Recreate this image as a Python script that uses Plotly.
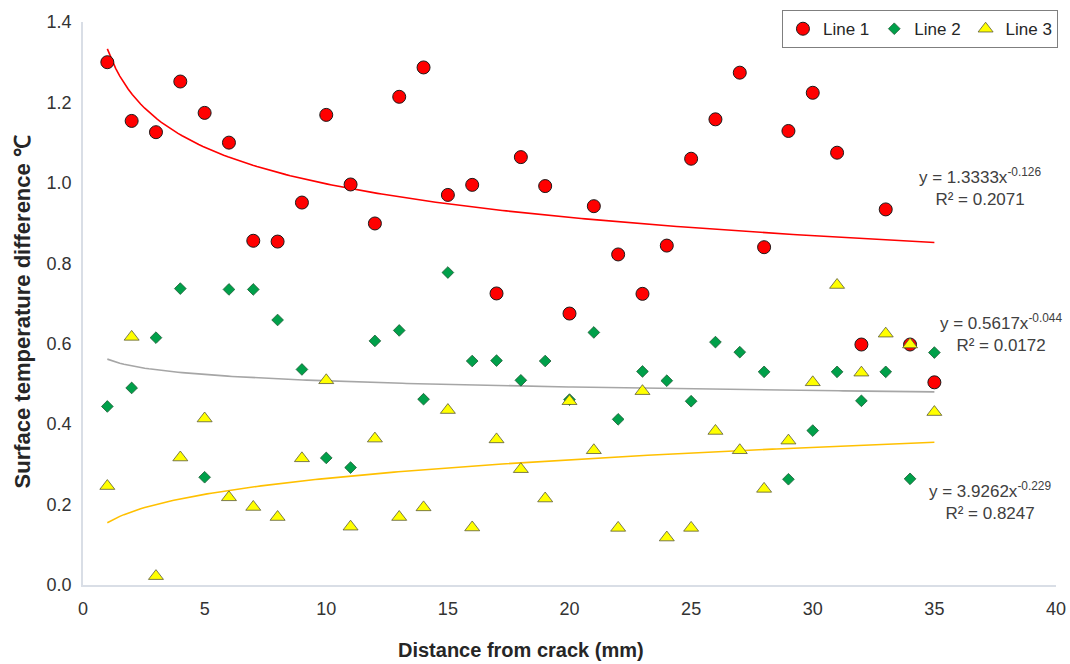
import numpy as np
import plotly.graph_objects as go

# ---- data ----
distance = list(range(1, 36))

line1 = [1.300, 1.154, 1.126, 1.252, 1.174, 1.100, 0.856, 0.854, 0.951, 1.169,
         0.996, 0.899, 1.214, 1.287, 0.970, 0.995, 0.725, 1.064, 0.992, 0.675,
         0.942, 0.822, 0.724, 0.844, 1.060, 1.158, 1.274, 0.840, 1.129, 1.224,
         1.075, 0.598, 0.934, 0.598, 0.504]

line2 = [0.444, 0.490, 0.615, 0.737, 0.268, 0.735, 0.735, 0.659, 0.536, 0.316,
         0.292, 0.607, 0.633, 0.462, 0.777, 0.557, 0.558, 0.509, 0.557, 0.461,
         0.628, 0.412, 0.531, 0.508, 0.457, 0.604, 0.579, 0.530, 0.263, 0.384,
         0.530, 0.458, 0.530, 0.264, 0.578]

line3 = [0.246, 0.617, 0.022, 0.317, 0.414, 0.218, 0.194, 0.169, 0.315, 0.509,
         0.145, 0.364, 0.169, 0.193, 0.435, 0.143, 0.362, 0.288, 0.215, 0.457,
         0.335, 0.142, 0.482, 0.118, 0.142, 0.383, 0.335, 0.239, 0.359, 0.504,
         0.746, 0.528, 0.625, 0.598, 0.430]

series_names = ["Line 1", "Line 2", "Line 3"]

# power trend lines y = a * x^b (as drawn in the reference)
trend_coef = [1.3333, 0.5617, 0.155]
trend_exp = [-0.126, -0.044, 0.233]
trend_labels = ["y = 1.3333x<sup>-0.126</sup><br>R² = 0.2071",
                "y = 0.5617x<sup>-0.044</sup><br>R² = 0.0172",
                "y = 3.9262x<sup>-0.229</sup><br>R² = 0.8247"]
trend_label_pos = [(36.87, 0.990), (37.74, 0.627), (37.27, 0.210)]

x_title = "<b>Distance from crack (mm)</b>"
y_title = "<b>Surface temperature difference ℃</b>"

x_ticks = [0, 5, 10, 15, 20, 25, 30, 35, 40]
y_ticks = [0.0, 0.2, 0.4, 0.6, 0.8, 1.0, 1.2, 1.4]

# ---- styles ----
FONT = "Liberation Sans, Arial, sans-serif"
trend_colors = ["#FF0000", "#A6A6A6", "#FFC000"]
marker_styles = [
    dict(symbol="circle", size=13, color="#FF0000", line=dict(color="#1a1a1a", width=1)),
    dict(symbol="diamond", size=9, color="#00A04A", line=dict(color="#1d5c34", width=0.8)),
    dict(symbol="triangle-up", size=13, color="#FFFF00", line=dict(color="#5a5a3a", width=0.8)),
]

fig = go.Figure()

xs = np.linspace(min(distance), max(distance), 200)
for a, b, c in zip(trend_coef, trend_exp, trend_colors):
    fig.add_trace(go.Scatter(x=xs, y=a * xs ** b, mode="lines",
                             line=dict(color=c, width=1.6),
                             showlegend=False, hoverinfo="skip"))

for name, vals, ms in zip(series_names, [line1, line2, line3], marker_styles):
    fig.add_trace(go.Scatter(x=distance, y=vals, mode="markers", name=name,
                             marker=ms))

for txt, (ax, ay) in zip(trend_labels, trend_label_pos):
    fig.add_annotation(x=ax, y=ay, text=txt, showarrow=False, xref="x", yref="y",
                       align="center", font=dict(family=FONT, size=17, color="#404040"))

# axis titles (centred as in the reference)
fig.add_annotation(x=0.450, y=-0.1154, xref="paper", yref="paper", text=x_title,
                   showarrow=False, xanchor="center", yanchor="middle",
                   font=dict(family=FONT, size=20, color="#262626"))
fig.add_annotation(x=-0.0617, y=0.4858, xref="paper", yref="paper", text=y_title,
                   showarrow=False, xanchor="center", yanchor="middle", textangle=-90,
                   font=dict(family=FONT, size=22, color="#262626"))

axis_line = "#D9DEE6"
fig.update_xaxes(range=[0, 40], tickvals=x_ticks, showgrid=False, zeroline=False,
                 showline=True, linecolor=axis_line, linewidth=1.5, ticks="",
                 ticklabelstandoff=7,
                 tickfont=dict(family=FONT, size=18, color="#333333"))
fig.update_yaxes(range=[0, 1.4], tickvals=y_ticks, tickformat=".1f", showgrid=False,
                 zeroline=False, showline=True, linecolor=axis_line, linewidth=1.5,
                 ticks="", ticklabelstandoff=6,
                 tickfont=dict(family=FONT, size=18, color="#333333"))

fig.update_layout(
    width=1070, height=664,
    margin=dict(l=83, r=14, t=22, b=79, autoexpand=False),
    paper_bgcolor="white", plot_bgcolor="white",
    font=dict(family=FONT),
    legend=dict(orientation="h", x=1.002, xanchor="right", y=1.021, yanchor="top",
                bgcolor="white", bordercolor="#7f7f7f", borderwidth=1,
                font=dict(family=FONT, size=17, color="#262626"),
                itemwidth=30, tracegroupgap=0),
)

fig.write_html("out.html")
